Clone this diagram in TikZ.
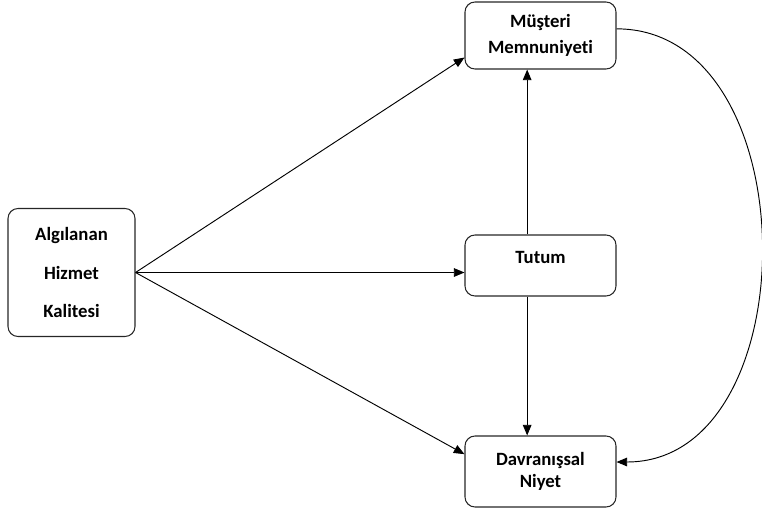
\documentclass[tikz,border=0pt]{standalone}
\usepackage{fontspec}
\setmainfont{Carlito}[Ligatures=NoCommon]
\usetikzlibrary{arrows.meta}

\begin{document}
\begin{tikzpicture}[x=0.3mm, y=-0.3mm]
\tikzstyle{every node}=[font=\fontsize{16}{22}\selectfont\bfseries, align=center]
\tikzstyle{box}=[draw=black!85, line width=0.9pt, rounded corners=3mm, minimum width=45.3mm]
\tikzstyle{arr}=[-{Triangle[length=3.2mm, width=2.6mm]}, line width=0.8pt]
\useasboundingbox (0,0) rectangle (762,510);

\node(ahk)[box, minimum width=38.1mm, minimum height=38.4mm] at ( 71.5, 272.5) {Algılanan\\[11pt] Hizmet\\[11pt] Kalitesi};
\node(mm)[box, minimum height=20.1mm]               at (540.5,  35.5) {Müşteri\\ Memnuniyeti};
\node(tt)[box, minimum height=18.3mm, text height=4mm, text depth=5.5mm] at (540.5, 265.5) {Tutum};
\node(dn)[box, minimum height=21.3mm]               at (540.5, 471.5) {Davranışsal\\[-3pt] Niyet};

\draw[arr] (ahk.east) -- ([yshift=3.6mm]mm.south west);
\draw[arr] (ahk.east) -- (ahk.east -| tt.west);
\draw[arr] (ahk.east) -- ([yshift=5.2mm]dn.west);
\draw[arr] ([xshift=-4mm]tt.north) -- ([xshift=-4mm]mm.south);
\draw[arr] ([xshift=-4mm]tt.south) -- ([xshift=-4mm]dn.north);
\draw[arr] ([yshift=2mm]mm.east) .. controls +(193,0) and +(193,0) .. ([yshift=2.85mm]dn.east);

\end{tikzpicture}
\end{document}
